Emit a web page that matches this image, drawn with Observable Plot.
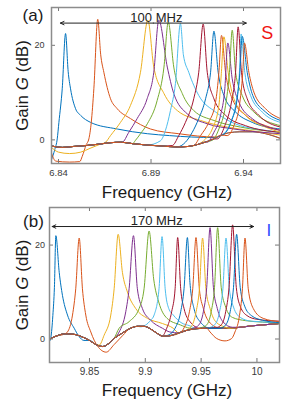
<!DOCTYPE html>
<html><head><meta charset="utf-8">
<script src="https://cdn.jsdelivr.net/npm/d3@7"></script>
<script src="https://cdn.jsdelivr.net/npm/@observablehq/plot@0.6"></script>
<style>
body{margin:0;background:#fff;}
#chart{width:291px;height:402px;}
#chart svg{display:block;}
</style></head><body><div id="chart"></div>
<script>
const palette = ["#0072BD","#D95319","#EDB120","#7E2F8E","#77AC30","#4DBEEE","#A2142F"];
const yTicks = [0, 20];
const yDomain = [-5, 28];
const sXTicks = [6.84, 6.89, 6.94];
const iXTicks = [9.85, 9.9, 9.95, 10];
const sXDomain = [6.8362, 6.96];
const iXDomain = [9.8142, 10.0202];

const sArrowX = [6.841, 6.9415];
const sArrowY = 24.7;
const sSpanText = "100 MHz";
const sSpanTextX = 6.8929;
const iArrowX = [9.8166, 9.997];
const iArrowY = 23.95;
const iSpanText = "170 MHz";
const iSpanTextX = 9.9102;

// common background of the S-mode traces (frequency GHz, gain dB)
const sBaseline = [[6.8362,-1.3],[6.842,-1.6],[6.848,-1.4],[6.855,-1.2],[6.862,-0.9],[6.868,-0.6],[6.874,-0.5],[6.88,-0.8],[6.888,-1.1],[6.896,-1.3],[6.904,-1.5],[6.91,-1.4],[6.915,-1.0],[6.92,-0.4],[6.924,0.2],[6.928,1.0],[6.932,1.5],[6.938,1.7],[6.945,1.7],[6.952,1.3],[6.96,0.3]];

// resonance traces, panel (a)
const sTraces = [
 [[6.8362,-4.2],[6.838,-2],[6.8393,0.2],[6.8402,3.7],[6.842,10.8],[6.8438,22.5],[6.8452,14.5],[6.8465,10.8],[6.8492,6.6],[6.8519,5.2],[6.8573,3.7],[6.8717,2.3],[6.888,1.3],[6.9,0.9],[6.912,0.6],[6.925,0.5]],
 [[6.8362,-2.8],[6.8385,-4.5],[6.846,-4.7],[6.8515,-4.6],[6.8528,-3.5],[6.855,-1],[6.8564,0.2],[6.8577,3.7],[6.8591,10.8],[6.8612,25.5],[6.8628,18],[6.8645,14.3],[6.8681,8.7],[6.8717,6.6],[6.8789,4.5],[6.8897,2.3],[6.905,1.3],[6.925,0.6]],
 [[6.8362,-1.6],[6.84,-2.6],[6.846,-2.9],[6.852,-2.6],[6.857,-1.8],[6.862,-1.0],[6.8654,-0.5],[6.8681,0.9],[6.8735,3.7],[6.8789,7.3],[6.8843,14.3],[6.8883,25.3],[6.8915,15.4],[6.897,9.8],[6.9042,6.2],[6.9168,4.1],[6.9312,2.7],[6.945,1.9],[6.96,1.0]],
 [[6.8744,-0.5],[6.878,1.6],[6.8825,4.5],[6.8879,8.7],[6.8915,14.3],[6.8942,25.3],[6.8988,15.4],[6.9023,9.8],[6.9096,5.5],[6.9204,3.4],[6.9348,2.3],[6.96,1.3]],
 [[6.8816,-0.1],[6.8843,1.3],[6.888,3.4],[6.8933,8.3],[6.897,15.4],[6.8993,24.9],[6.9023,15.4],[6.9069,9.8],[6.9131,6.2],[6.924,4.1],[6.9384,2.7],[6.96,1.6]],
 [[6.8951,-0.2],[6.8978,2.0],[6.9005,6.2],[6.9032,11.9],[6.9059,24.6],[6.9075,18],[6.9104,14.3],[6.9158,9.4],[6.9249,5.9],[6.9337,3.7],[6.952,2.0],[6.96,1.6]],
 [[6.9015,-1.2],[6.905,0.9],[6.9086,3.7],[6.9131,8.7],[6.9158,14.3],[6.9182,24.5],[6.9204,14.3],[6.924,8.7],[6.9303,5.2],[6.9411,3.0],[6.96,1.6]],
 [[6.9086,-0.5],[6.9123,1.6],[6.9158,4.5],[6.9195,8.7],[6.9222,14.3],[6.924,23.0],[6.9263,14.3],[6.9294,9.4],[6.9357,5.9],[6.9447,3.7],[6.96,2.3]],
 [[6.9131,-1.2],[6.9168,0.9],[6.9212,3.7],[6.9249,8.0],[6.9267,14.3],[6.9281,22.1],[6.9303,14.3],[6.9339,8.7],[6.9411,5.2],[6.9519,3.0],[6.96,2.0]],
 [[6.9195,0.2],[6.9231,2.3],[6.9267,7.3],[6.928,14],[6.9294,21.8],[6.9317,14.3],[6.9348,8.7],[6.9411,5.2],[6.9519,2.7],[6.96,1.6]],
 [[6.9204,-0.5],[6.924,1.6],[6.9276,5.2],[6.9299,10.8],[6.9315,20.5],[6.9339,12.9],[6.9375,8.0],[6.9447,4.5],[6.96,2.0]],
 [[6.9231,-0.1],[6.9267,2.3],[6.9303,7.3],[6.9324,14.3],[6.9339,23.2],[6.9357,14.3],[6.9393,9.4],[6.9456,5.9],[6.96,3.0]],
 [[6.9294,1.3],[6.933,3.7],[6.936,8.0],[6.9378,14.3],[6.9387,22.4],[6.9407,14.3],[6.9438,9.4],[6.9501,5.9],[6.96,3.7]],
 [[6.9258,0.2],[6.9299,3.0],[6.9335,8.0],[6.9357,14.3],[6.9371,23.9],[6.9389,14.3],[6.942,8.7],[6.9483,5.2],[6.96,2.7]],
 [[6.9294,1.2],[6.9335,4],[6.9365,8.5],[6.938,14],[6.9393,21.9],[6.942,14.3],[6.945,9.4],[6.9519,5.9],[6.96,4.1]],
 [[6.9312,0.9],[6.9348,3.0],[6.9378,7.3],[6.9396,14.3],[6.9405,20.5],[6.9429,14.3],[6.9456,10.1],[6.9519,6.6],[6.96,4.5]]
];

// common background of the I-mode traces
const iBaseline = [[9.8142,0.0],[9.82,0.6],[9.828,1.1],[9.836,1.0],[9.843,0.5],[9.85,-0.3],[9.856,-1.2],[9.862,-1.6],[9.867,-1.0],[9.872,0.1],[9.879,1.2],[9.886,2.2],[9.893,2.7],[9.899,2.7],[9.905,2.1],[9.91,1.3],[9.916,0.6],[9.922,0.7],[9.93,1.3],[9.938,1.9],[9.946,2.2],[9.955,2.3],[9.965,2.3],[9.975,2.3],[9.985,2.5],[9.995,2.8],[10.005,3.0],[10.0202,3.3]];

// resonance traces, panel (b)
const iTraces = [
 [[9.8142,-0.5],[9.8154,0.3],[9.8172,5],[9.8186,11],[9.8199,22.0],[9.8229,14.2],[9.8258,9.3],[9.8303,5.1],[9.8363,2.3],[9.8408,0.5],[9.845,-0.3]],
 [[9.8303,1.5],[9.8348,5.1],[9.8377,10.7],[9.8408,21.5],[9.8437,10.7],[9.8467,5.1],[9.8512,1.5],[9.8572,-1.5],[9.865,-2.8],[9.872,-1.2],[9.88,0.8]],
 [[9.8587,-1.3],[9.8631,0.8],[9.8691,5.1],[9.8721,10.7],[9.8757,22.3],[9.8795,14.2],[9.884,10.0],[9.8914,6.5],[9.9019,4.4],[9.9153,3.3],[9.925,2.3]],
 [[9.8766,1.5],[9.8825,5.8],[9.8855,10.7],[9.8894,22.0],[9.8929,10.7],[9.8974,6.5],[9.9048,4.0],[9.9153,2.3],[9.922,1.5]],
 [[9.8766,2.3],[9.8855,3.7],[9.8945,6.5],[9.8989,10.7],[9.9034,23.0],[9.9075,12.8],[9.912,7.9],[9.9195,4.4],[9.9314,3.0],[9.94,2.3]],
 [[9.8956,2.6],[9.9048,4.0],[9.9079,5.1],[9.9123,10.7],[9.915,21.8],[9.9178,10.7],[9.921,6.5],[9.9251,5.1],[9.932,3.5],[9.94,2.8]],
 [[9.915,0.6],[9.9192,2.3],[9.9236,5.8],[9.9267,10.7],[9.929,21.6],[9.9317,10.7],[9.9347,6.5],[9.94,3.7],[9.949,2.3]],
 [[9.922,1.0],[9.9267,2.3],[9.9317,5.8],[9.9347,10.7],[9.9377,21.6],[9.94,12],[9.9436,6.5],[9.949,3.7],[9.958,2.3]],
 [[9.93,1.2],[9.935,2.5],[9.9395,5.8],[9.9425,10.7],[9.9454,21.6],[9.9484,10.7],[9.952,6.5],[9.957,3.7],[9.966,2.4]],
 [[9.936,1.8],[9.941,2.6],[9.9455,5.8],[9.9485,10.7],[9.9513,21.5],[9.9543,10.7],[9.958,6.5],[9.963,3.7],[9.972,2.5]],
 [[9.943,2.3],[9.948,3],[9.952,5.8],[9.955,11],[9.958,23.7],[9.961,11],[9.9645,6.5],[9.9695,3.7],[9.978,2.5]],
 [[9.95,2.4],[9.955,3],[9.959,5.8],[9.962,11],[9.9648,23.7],[9.968,11],[9.972,6.8],[9.978,4.6],[9.99,3.9],[10.005,3.6],[10.0202,3.4]],
 [[9.957,2.4],[9.962,3],[9.9665,5.8],[9.9695,10.7],[9.9723,21.5],[9.9753,10.7],[9.979,6.8],[9.985,4.6],[9.995,3.8],[10.0202,3.5]],
 [[9.963,2.4],[9.968,3],[9.972,5.8],[9.975,11],[9.9782,24.3],[9.9815,11],[9.985,7],[9.991,5],[10.0,4.2],[10.0202,3.8]],
 [[9.967,2.3],[9.972,3],[9.976,5.8],[9.979,11],[9.9818,22.3],[9.985,11],[9.989,7],[9.995,5],[10.005,4],[10.0202,3.5]],
 [[9.955,2.3],[9.958,1.5],[9.964,0.1],[9.9714,-0.4],[9.9773,0.1],[9.9803,1.5],[9.984,4.5],[9.987,10.7],[9.9893,21.5],[9.9922,10.7],[9.9967,6.5],[10.0056,4.4],[10.0202,3.7]]
];

function buildRows(traces, baseline) {
  const rows = [];
  traces.forEach((pts, i) => {
    const f0 = pts[0][0], f1 = pts[pts.length - 1][0];
    const all = [...baseline.filter(d => d[0] < f0), ...pts, ...baseline.filter(d => d[0] > f1)];
    all.forEach(([f, g]) => rows.push({trace: i, color: palette[i % palette.length], f, g}));
  });
  return rows;
}

const FONT = "'Liberation Sans', Arial, Helvetica, sans-serif";

function panel(cfg) {
  const frameW = cfg.width - cfg.ml - cfg.mr;
  const frameH = cfg.height - cfg.mt - cfg.mb;
  const rows = buildRows(cfg.traces, cfg.baseline);
  const mid = (cfg.arrowX[0] + cfg.arrowX[1]) / 2;
  const tk = 4;
  return Plot.plot({
    width: cfg.width, height: cfg.height,
    marginTop: cfg.mt, marginBottom: cfg.mb, marginLeft: cfg.ml, marginRight: cfg.mr,
    x: {domain: cfg.xDomain}, y: {domain: yDomain},
    color: {type: "identity"},
    style: {fontFamily: FONT, background: "transparent", overflow: "visible"},
    marks: [
      Plot.line(rows, {x: "f", y: "g", z: "trace", stroke: "color", strokeWidth: 1, curve: "monotone-x", clip: true}),
      Plot.arrow(cfg.arrowX, {x1: () => mid, x2: d => d, y1: () => cfg.arrowY, y2: () => cfg.arrowY, stroke: "#222", strokeWidth: 1, headLength: 6, headAngle: 50}),
      Plot.text([cfg.spanText], {x: () => cfg.spanTextX, y: () => cfg.arrowY, dy: -1.5, lineAnchor: "bottom", textAnchor: "middle", fontSize: 13, fill: "#222"}),
      Plot.tickX(cfg.xTicks, {x: d => d, insetBottom: frameH - tk, stroke: "#777"}),
      Plot.tickX(cfg.xTicks, {x: d => d, insetTop: frameH - tk, stroke: "#777"}),
      Plot.tickY(yTicks, {y: d => d, insetRight: frameW - tk, stroke: "#777"}),
      Plot.tickY(yTicks, {y: d => d, insetLeft: frameW - tk, stroke: "#777"}),
      Plot.axisX(cfg.xTicks, {tickSize: 0, tickPadding: cfg.xPad, fontSize: cfg.xFont, fill: "#3a3a3a", label: null, tickFormat: d => String(d)}),
      Plot.axisY(yTicks, {tickSize: 0, tickPadding: cfg.yPad, fontSize: 9, fill: "#3a3a3a", label: null, tickFormat: d => String(d)}),
      Plot.frame({stroke: "#8c8c8c", strokeWidth: 1.5}),
      Plot.text(["Frequency (GHz)"], {frameAnchor: "bottom", dy: cfg.xLabDy, dx: cfg.xLabDx, textAnchor: "middle", lineAnchor: "middle", fontSize: 17, fill: "#1a1a1a"}),
      Plot.text(["Gain G (dB)"], {frameAnchor: "left", dx: cfg.yLabDx, rotate: -90, textAnchor: "middle", lineAnchor: "middle", fontSize: 17, fill: "#1a1a1a"}),
      Plot.text([cfg.tag], {frameAnchor: "top-left", dx: cfg.tagDx, dy: cfg.tagDy, textAnchor: "middle", lineAnchor: "middle", fontSize: 17, fill: "#1a1a1a"}),
      Plot.text([cfg.mode], {frameAnchor: "top-right", dx: cfg.modeDx, dy: cfg.modeDy, textAnchor: "middle", lineAnchor: "middle", fontSize: cfg.modeSize, fill: cfg.modeColor})
    ]
  });
}

function italicG(svg) {
  d3.select(svg).selectAll("text").filter(function () { return this.textContent === "Gain G (dB)"; }).each(function () {
    const t = d3.select(this);
    t.text(null);
    t.append("tspan").text("Gain ");
    t.append("tspan").attr("font-style", "italic").text("G");
    t.append("tspan").text(" (dB)");
  });
}

const a = panel({
  width: 291, height: 200, mt: 7, mb: 37, ml: 51, mr: 11,
  xDomain: sXDomain, xTicks: sXTicks, traces: sTraces, baseline: sBaseline,
  arrowX: sArrowX, arrowY: sArrowY, spanText: sSpanText, spanTextX: sSpanTextX,
  xPad: 6, xFont: 9.5, yPad: 7, xLabDy: 29, xLabDx: 1, yLabDx: -28.5,
  tag: "(a)", tagDx: -18.5, tagDy: 8, mode: "S", modeDx: -13.3, modeDy: 26, modeSize: 18, modeColor: "#f01414"
});
const b = panel({
  width: 291, height: 202, mt: 7, mb: 40, ml: 49, mr: 12,
  xDomain: iXDomain, xTicks: iXTicks, traces: iTraces, baseline: iBaseline,
  arrowX: iArrowX, arrowY: iArrowY, spanText: iSpanText, spanTextX: iSpanTextX,
  xPad: 5.5, xFont: 10, yPad: 4.5, xLabDy: 28, xLabDx: 2.5, yLabDx: -27,
  tag: "(b)", tagDx: -16, tagDy: 13.7, mode: "I", modeDx: -10.7, modeDy: 23, modeSize: 17, modeColor: "#2f4cff"
});
italicG(a); italicG(b);
document.getElementById("chart").append(a, b);
</script>
</body></html>
